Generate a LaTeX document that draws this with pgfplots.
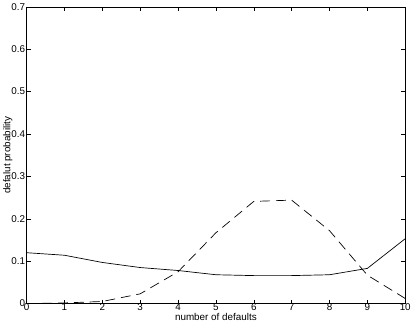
\documentclass[border=0pt]{standalone}
\usepackage{pgfplots}
\pgfplotsset{compat=1.18}
\usepackage{fontspec}
\setmainfont{Liberation Sans}
\begin{document}
\fontsize{10}{11}\selectfont
\begin{tikzpicture}
\begin{axis}[
    scale only axis, width=384pt, height=301pt,
    xmin=0, xmax=10, ymin=0, ymax=0.7,
    xtick={0,1,...,10}, ytick={0,0.1,...,0.7},
    tick align=inside, major tick length=4pt,
    tick style={black, line width=0.4pt},
    axis line style={line width=0.5pt},
    /pgf/number format/assume math mode=true,
    yticklabel style={/pgf/number format/fixed, /pgf/number format/precision=1, xshift=2pt},
    ticklabel style={font=\fontsize{10}{11}\selectfont},
    xticklabel style={yshift=3pt},
    xlabel={number of defaults}, ylabel={defalut probability},
    xlabel style={yshift=5pt}, ylabel style={yshift=-8pt},
    label style={font=\fontsize{10}{11}\selectfont},
  ]
  % solid series
  \addplot[black, line width=0.7pt] coordinates {
    (0,0.120) (1,0.114) (2,0.097) (3,0.085) (4,0.078) (5,0.068)
    (6,0.066) (7,0.066) (8,0.068) (9,0.083) (10,0.153)};
  % dashed series
  \addplot[black, line width=0.7pt, dash pattern=on 10pt off 6pt] coordinates {
    (0,0.000) (1,0.0015) (2,0.005) (3,0.023) (4,0.075) (5,0.167)
    (6,0.241) (7,0.244) (8,0.172) (9,0.067) (10,0.012)};
\end{axis}
\end{tikzpicture}
\end{document}
